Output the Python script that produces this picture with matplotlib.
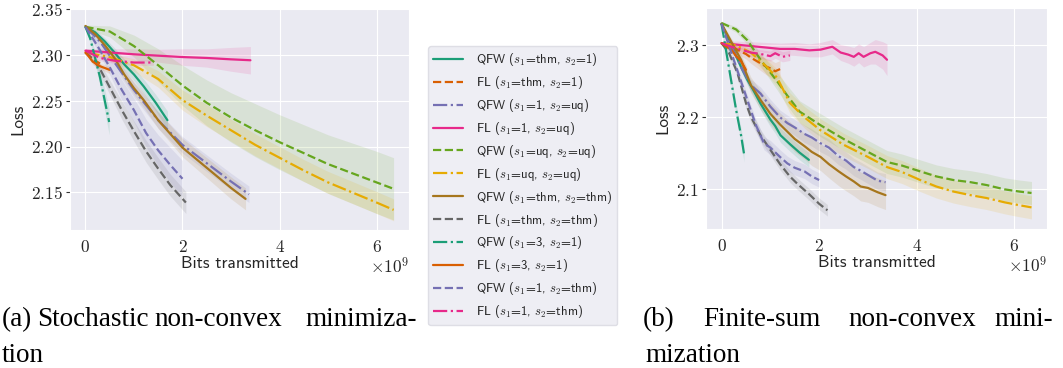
import matplotlib
matplotlib.use("Agg")
import matplotlib.pyplot as plt
import seaborn as sns
from matplotlib.ticker import FixedLocator, FuncFormatter

sns.set_style("darkgrid")
plt.rcParams["mathtext.fontset"] = "cm"
plt.rcParams["font.family"] = ["cmss10", "DejaVu Sans"]

# ---------------- data (x in units of 1e9 bits) ----------------
labels = [r"QFW ($s_1$=thm, $s_2$=1)", r"FL ($s_1$=thm, $s_2$=1)",
          r"QFW ($s_1$=1, $s_2$=uq)", r"FL ($s_1$=1, $s_2$=uq)",
          r"QFW ($s_1$=uq, $s_2$=uq)", r"FL ($s_1$=uq, $s_2$=uq)",
          r"QFW ($s_1$=thm, $s_2$=thm)", r"FL ($s_1$=thm, $s_2$=thm)",
          r"QFW ($s_1$=3, $s_2$=1)", r"FL ($s_1$=3, $s_2$=1)",
          r"QFW ($s_1$=1, $s_2$=thm)", r"FL ($s_1$=1, $s_2$=thm)"]

# ---- (a) stochastic ----
a_qfw_thm_1_x = [0, 0.2, 0.4, 0.6, 0.8, 1.0, 1.2, 1.45, 1.69]
a_qfw_thm_1_y = [2.331, 2.325, 2.315, 2.303, 2.290, 2.279, 2.266, 2.248, 2.229]
a_qfw_thm_1_s = [0.002, 0.003, 0.004, 0.005, 0.006, 0.007, 0.008, 0.009, 0.010]

a_fl_thm_1_x = [0, 0.1, 0.2, 0.3]
a_fl_thm_1_y = [2.303, 2.298, 2.294, 2.291]
a_fl_thm_1_s = [0.002, 0.003, 0.003, 0.004]

a_qfw_1_uq_x = [0, 0.3, 0.6, 1.0, 1.5, 2.0, 2.5, 3.0, 3.37]
a_qfw_1_uq_y = [2.331, 2.315, 2.292, 2.262, 2.229, 2.202, 2.182, 2.162, 2.148]
a_qfw_1_uq_s = [0.002, 0.004, 0.006, 0.008, 0.009, 0.009, 0.009, 0.009, 0.009]

a_fl_1_uq_x = [0, 0.5, 1.0, 1.5, 2.0, 2.5, 3.0, 3.4]
a_fl_1_uq_y = [2.305, 2.303, 2.301, 2.2995, 2.298, 2.297, 2.2955, 2.2945]
a_fl_1_uq_s = [0.002, 0.004, 0.006, 0.007, 0.009, 0.010, 0.013, 0.015]

a_qfw_uq_uq_x = [0, 0.5, 1.0, 1.5, 2.0, 2.5, 3.0, 3.5, 4.0, 4.5, 5.0, 5.5, 6.0, 6.35]
a_qfw_uq_uq_y = [2.331, 2.326, 2.310, 2.289, 2.267, 2.248, 2.232, 2.218, 2.205, 2.193, 2.181, 2.171, 2.161, 2.154]
a_qfw_uq_uq_s = [0.002, 0.006, 0.012, 0.018, 0.022, 0.025, 0.027, 0.029, 0.030, 0.031, 0.032, 0.033, 0.034, 0.034]

a_fl_uq_uq_x = [0, 0.5, 1.0, 1.5, 2.0, 2.5, 3.0, 3.5, 4.0, 4.5, 5.0, 5.5, 6.0, 6.35]
a_fl_uq_uq_y = [2.303, 2.298, 2.289, 2.274, 2.251, 2.234, 2.218, 2.202, 2.188, 2.174, 2.161, 2.150, 2.139, 2.131]
a_fl_uq_uq_s = [0.002, 0.004, 0.007, 0.009, 0.011, 0.012, 0.012, 0.012, 0.012, 0.012, 0.012, 0.012, 0.012, 0.012]

a_qfw_thm_thm_x = [0, 0.2, 0.4, 0.6, 0.8, 1.0, 1.2, 1.5, 2.0, 2.5, 3.0, 3.3]
a_qfw_thm_thm_y = [2.332, 2.323, 2.311, 2.297, 2.279, 2.264, 2.251, 2.229, 2.199, 2.177, 2.155, 2.143]
a_qfw_thm_thm_s = [0.002, 0.003, 0.004, 0.005, 0.006, 0.007, 0.008, 0.009, 0.010, 0.011, 0.012, 0.012]

a_fl_thm_thm_x = [0, 0.15, 0.3, 0.5, 0.75, 1.0, 1.25, 1.5, 1.75, 2.07]
a_fl_thm_thm_y = [2.303, 2.296, 2.285, 2.265, 2.240, 2.217, 2.195, 2.176, 2.158, 2.139]
a_fl_thm_thm_s = [0.002, 0.004, 0.006, 0.008, 0.010, 0.011, 0.012, 0.012, 0.012, 0.012]

a_qfw_3_1_x = [0, 0.1, 0.2, 0.3, 0.4, 0.49]
a_qfw_3_1_y = [2.331, 2.318, 2.297, 2.276, 2.250, 2.227]
a_qfw_3_1_s = [0.002, 0.004, 0.007, 0.009, 0.012, 0.014]

a_fl_3_1_x = [0, 0.05, 0.15, 0.3, 0.5]
a_fl_3_1_y = [2.303, 2.300, 2.293, 2.288, 2.284]
a_fl_3_1_s = [0.002, 0.002, 0.003, 0.003, 0.004]

a_qfw_1_thm_x = [0, 0.25, 0.5, 0.75, 1.0, 1.25, 1.5, 1.75, 2.0]
a_qfw_1_thm_y = [2.331, 2.310, 2.287, 2.262, 2.240, 2.215, 2.196, 2.180, 2.165]
a_qfw_1_thm_s = [0.002, 0.005, 0.008, 0.011, 0.013, 0.015, 0.017, 0.019, 0.020]

a_fl_1_thm_x = [0, 0.3, 0.6, 1.0, 1.4]
a_fl_1_thm_y = [2.305, 2.297, 2.294, 2.292, 2.292]
a_fl_1_thm_s = [0.002, 0.003, 0.003, 0.003, 0.003]

# ---- (b) finite-sum ----
b_qfw_thm_1_x = [0, 0.2, 0.4, 0.53, 0.65, 0.8, 1.0, 1.1, 1.21, 1.4, 1.6, 1.79]
b_qfw_thm_1_y = [2.33, 2.30, 2.27, 2.252, 2.238, 2.219, 2.197, 2.188, 2.175, 2.163, 2.151, 2.141]
b_qfw_thm_1_s = [0.002, 0.004, 0.006, 0.007, 0.008, 0.009, 0.010, 0.010, 0.010, 0.010, 0.010, 0.010]

b_fl_thm_1_x = [0, 0.1, 0.2, 0.3, 0.4, 0.5, 0.6, 0.7, 0.8, 0.9, 1.0, 1.1, 1.2]
b_fl_thm_1_y = [2.303, 2.300, 2.298, 2.295, 2.291, 2.288, 2.283, 2.279, 2.275, 2.271, 2.268, 2.264, 2.267]
b_fl_thm_1_s = [0.002, 0.003, 0.004, 0.005, 0.006, 0.007, 0.008, 0.009, 0.010, 0.011, 0.012, 0.012, 0.012]

b_qfw_1_uq_x = [0, 0.2, 0.4, 0.6, 0.8, 1.0, 1.2, 1.35, 1.5, 1.7, 1.85, 2.03, 2.2, 2.4, 2.55, 2.71, 2.85, 3.0, 3.2, 3.36]
b_qfw_1_uq_y = [2.33, 2.30, 2.27, 2.245, 2.233, 2.215, 2.20, 2.192, 2.186, 2.177, 2.172, 2.164, 2.158, 2.146, 2.14, 2.131, 2.126, 2.12, 2.112, 2.11]
b_qfw_1_uq_s = [0.002, 0.004, 0.006, 0.008, 0.009, 0.010, 0.010, 0.011, 0.011, 0.012, 0.012, 0.012, 0.012, 0.012, 0.012, 0.012, 0.012, 0.012, 0.012, 0.012]

b_fl_1_uq_x = [0, 0.3, 0.6, 0.9, 1.2, 1.5, 1.8, 2.03, 2.27, 2.44, 2.6, 2.71, 2.81, 2.91, 3.05, 3.15, 3.3, 3.39]
b_fl_1_uq_y = [2.303, 2.301, 2.299, 2.297, 2.295, 2.295, 2.293, 2.294, 2.298, 2.290, 2.287, 2.284, 2.289, 2.284, 2.289, 2.291, 2.286, 2.280]
b_fl_1_uq_s = [0.002, 0.005, 0.006, 0.007, 0.008, 0.009, 0.009, 0.010, 0.010, 0.011, 0.012, 0.013, 0.013, 0.014, 0.015, 0.017, 0.019, 0.022]

b_qfw_uq_uq_x = [0, 0.3, 0.53, 0.8, 1.14, 1.35, 1.6, 2.03, 2.5, 3.0, 3.39, 3.7, 4.07, 4.4, 4.75, 5.1, 5.43, 5.8, 6.1, 6.35]
b_qfw_uq_uq_y = [2.331, 2.322, 2.307, 2.280, 2.250, 2.230, 2.208, 2.189, 2.170, 2.152, 2.138, 2.133, 2.125, 2.118, 2.113, 2.110, 2.106, 2.100, 2.097, 2.095]
b_qfw_uq_uq_s = [0.002, 0.004, 0.006, 0.009, 0.012, 0.014, 0.015, 0.016, 0.016, 0.016, 0.016, 0.016, 0.016, 0.016, 0.016, 0.016, 0.016, 0.016, 0.016, 0.016]

b_fl_uq_uq_x = [0, 0.3, 0.6, 0.9, 1.14, 1.4, 1.7, 2.03, 2.5, 3.0, 3.39, 3.7, 4.07, 4.4, 4.75, 5.1, 5.43, 5.8, 6.1, 6.35]
b_fl_uq_uq_y = [2.303, 2.300, 2.290, 2.272, 2.255, 2.220, 2.200, 2.182, 2.162, 2.145, 2.131, 2.124, 2.113, 2.104, 2.097, 2.092, 2.088, 2.082, 2.078, 2.075]
b_fl_uq_uq_s = [0.002, 0.004, 0.007, 0.010, 0.012, 0.014, 0.015, 0.016, 0.016, 0.016, 0.016, 0.016, 0.016, 0.016, 0.016, 0.016, 0.016, 0.016, 0.016, 0.016]

b_qfw_thm_thm_x = [0, 0.2, 0.4, 0.6, 0.8, 1.0, 1.2, 1.35, 1.5, 1.7, 1.85, 2.03, 2.2, 2.4, 2.55, 2.71, 2.85, 3.0, 3.2, 3.36]
b_qfw_thm_thm_y = [2.33, 2.305, 2.28, 2.245, 2.224, 2.205, 2.19, 2.18, 2.17, 2.16, 2.152, 2.145, 2.135, 2.125, 2.118, 2.111, 2.104, 2.102, 2.096, 2.092]
b_qfw_thm_thm_s = [0.002, 0.005, 0.008, 0.011, 0.013, 0.015, 0.016, 0.017, 0.018, 0.018, 0.019, 0.019, 0.019, 0.020, 0.020, 0.020, 0.020, 0.020, 0.020, 0.020]

b_fl_thm_thm_x = [0, 0.15, 0.33, 0.5, 0.6, 0.8, 1.0, 1.2, 1.4, 1.55, 1.8, 2.0, 2.17]
b_fl_thm_thm_y = [2.303, 2.290, 2.261, 2.220, 2.201, 2.175, 2.155, 2.135, 2.118, 2.108, 2.093, 2.080, 2.071]
b_fl_thm_thm_s = [0.002, 0.004, 0.006, 0.007, 0.008, 0.008, 0.008, 0.008, 0.008, 0.008, 0.008, 0.008, 0.008]

b_qfw_3_1_x = [0, 0.1, 0.2, 0.3, 0.4, 0.46]
b_qfw_3_1_y = [2.33, 2.29, 2.25, 2.21, 2.175, 2.15]
b_qfw_3_1_s = [0.002, 0.004, 0.006, 0.008, 0.010, 0.012]

b_fl_3_1_x = [0, 0.1, 0.2, 0.3, 0.4, 0.5]
b_fl_3_1_y = [2.303, 2.298, 2.294, 2.285, 2.278, 2.266]
b_fl_3_1_s = [0.002, 0.003, 0.004, 0.005, 0.006, 0.006]

b_qfw_1_thm_x = [0, 0.2, 0.4, 0.53, 0.7, 0.87, 1.0, 1.2, 1.35, 1.5, 1.7, 1.85, 2.0]
b_qfw_1_thm_y = [2.33, 2.29, 2.25, 2.224, 2.19, 2.164, 2.158, 2.145, 2.136, 2.130, 2.125, 2.118, 2.113]
b_qfw_1_thm_s = [0.002, 0.004, 0.006, 0.007, 0.008, 0.009, 0.010, 0.010, 0.010, 0.010, 0.010, 0.010, 0.010]

b_fl_1_thm_x = [0, 0.2, 0.4, 0.6, 0.8, 1.0, 1.1, 1.25, 1.4]
b_fl_1_thm_y = [2.303, 2.298, 2.294, 2.290, 2.288, 2.285, 2.289, 2.284, 2.286]
b_fl_1_thm_s = [0.002, 0.004, 0.005, 0.006, 0.006, 0.007, 0.007, 0.007, 0.007]

a_series = [(a_qfw_thm_1_x, a_qfw_thm_1_y, a_qfw_thm_1_s), (a_fl_thm_1_x, a_fl_thm_1_y, a_fl_thm_1_s),
            (a_qfw_1_uq_x, a_qfw_1_uq_y, a_qfw_1_uq_s), (a_fl_1_uq_x, a_fl_1_uq_y, a_fl_1_uq_s),
            (a_qfw_uq_uq_x, a_qfw_uq_uq_y, a_qfw_uq_uq_s), (a_fl_uq_uq_x, a_fl_uq_uq_y, a_fl_uq_uq_s),
            (a_qfw_thm_thm_x, a_qfw_thm_thm_y, a_qfw_thm_thm_s), (a_fl_thm_thm_x, a_fl_thm_thm_y, a_fl_thm_thm_s),
            (a_qfw_3_1_x, a_qfw_3_1_y, a_qfw_3_1_s), (a_fl_3_1_x, a_fl_3_1_y, a_fl_3_1_s),
            (a_qfw_1_thm_x, a_qfw_1_thm_y, a_qfw_1_thm_s), (a_fl_1_thm_x, a_fl_1_thm_y, a_fl_1_thm_s)]
b_series = [(b_qfw_thm_1_x, b_qfw_thm_1_y, b_qfw_thm_1_s), (b_fl_thm_1_x, b_fl_thm_1_y, b_fl_thm_1_s),
            (b_qfw_1_uq_x, b_qfw_1_uq_y, b_qfw_1_uq_s), (b_fl_1_uq_x, b_fl_1_uq_y, b_fl_1_uq_s),
            (b_qfw_uq_uq_x, b_qfw_uq_uq_y, b_qfw_uq_uq_s), (b_fl_uq_uq_x, b_fl_uq_uq_y, b_fl_uq_uq_s),
            (b_qfw_thm_thm_x, b_qfw_thm_thm_y, b_qfw_thm_thm_s), (b_fl_thm_thm_x, b_fl_thm_thm_y, b_fl_thm_thm_s),
            (b_qfw_3_1_x, b_qfw_3_1_y, b_qfw_3_1_s), (b_fl_3_1_x, b_fl_3_1_y, b_fl_3_1_s),
            (b_qfw_1_thm_x, b_qfw_1_thm_y, b_qfw_1_thm_s), (b_fl_1_thm_x, b_fl_1_thm_y, b_fl_1_thm_s)]

# ---------------- style ----------------
dark2 = ["#1b9e77", "#d95f02", "#7570b3", "#e7298a", "#66a61e", "#e6ab02", "#a6761d", "#666666"]
colors = [dark2[i % 8] for i in range(12)]
styles = ["-", "--", "-."] * 4

fig = plt.figure(figsize=(10.63, 3.68), dpi=100)
ax_a = fig.add_axes([70 / 1063, 138 / 368, 339 / 1063, 222 / 368])
ax_b = fig.add_axes([706 / 1063, 139 / 368, 341 / 1063, 221 / 368])

handles = []
for ax, series in ((ax_a, a_series), (ax_b, b_series)):
    for i, (x, y, s) in enumerate(series):
        lo = [v - d for v, d in zip(y, s)]
        hi = [v + d for v, d in zip(y, s)]
        ax.fill_between(x, lo, hi, color=colors[i], alpha=0.13, lw=0)
    for i, (x, y, s) in enumerate(series):
        ln, = ax.plot(x, y, color=colors[i], ls=styles[i], lw=1.6)
        if ax is ax_a:
            handles.append(ln)

ax_a.set_xlim(-0.3175, 6.6675)
ax_a.set_ylim(2.109, 2.3516)
ax_a.yaxis.set_major_locator(FixedLocator([2.15, 2.20, 2.25, 2.30, 2.35]))
ax_a.yaxis.set_major_formatter(FuncFormatter(lambda v, p: r"$\mathrm{%.2f}$" % v))

ax_b.set_xlim(-0.3175, 6.6675)
ax_b.set_ylim(2.045, 2.3518)
ax_b.yaxis.set_major_locator(FixedLocator([2.1, 2.2, 2.3]))
ax_b.yaxis.set_major_formatter(FuncFormatter(lambda v, p: r"$\mathrm{%.1f}$" % v))

for ax in (ax_a, ax_b):
    ax.xaxis.set_major_locator(FixedLocator([0, 2, 4, 6]))
    ax.xaxis.set_major_formatter(FuncFormatter(lambda v, p: r"$\mathrm{%d}$" % round(v)))
    ax.tick_params(axis="both", labelsize=12.5)
    ax.tick_params(axis="y", left=True, length=3, width=0.8, color="0.2", pad=2)
    ax.tick_params(axis="x", pad=3)
    ax.set_ylabel("Loss", fontsize=12.5, labelpad=4)
    ax.set_xlabel("Bits transmitted", fontsize=12.5, labelpad=1)
    ax.text(1.0, -0.12, r"$\times\mathrm{10}^{9}$", transform=ax.transAxes,
            ha="right", va="top", fontsize=12.5, color="0.15")

leg = fig.legend(handles, labels, loc="upper left", bbox_to_anchor=(428 / 1063, 1 - 46 / 368),
                 borderaxespad=0, fontsize=9.2, handlelength=2.35, labelspacing=0.46,
                 borderpad=0.42, handletextpad=0.95, frameon=True, fancybox=True)
leg.get_frame().set_edgecolor("#d8d8e0")

# ---------------- captions ----------------
cap = dict(family="Liberation Serif", fontsize=19.5, va="baseline", color="black")
y1 = 1 - 326.5 / 368
y2 = 1 - 361.5 / 368
fig.text(2 / 1063, y1, "(a)", ha="left", **cap)
fig.text(93 / 1063, y1, "Stochastic", ha="center", **cap)
fig.text(218 / 1063, y1, "non-convex", ha="center", **cap)
fig.text(417 / 1063, y1, "minimiza-", ha="right", **cap)
fig.text(2 / 1063, y2, "tion", ha="left", **cap)
fig.text(659 / 1063, y1, "(b)", ha="center", **cap)
fig.text(762 / 1063, y1, "Finite-sum", ha="center", **cap)
fig.text(912 / 1063, y1, "non-convex", ha="center", **cap)
fig.text(1053 / 1063, y1, "mini-", ha="right", **cap)
fig.text(645 / 1063, y2, "mization", ha="left", **cap)

fig.savefig("out.png", dpi=100)
